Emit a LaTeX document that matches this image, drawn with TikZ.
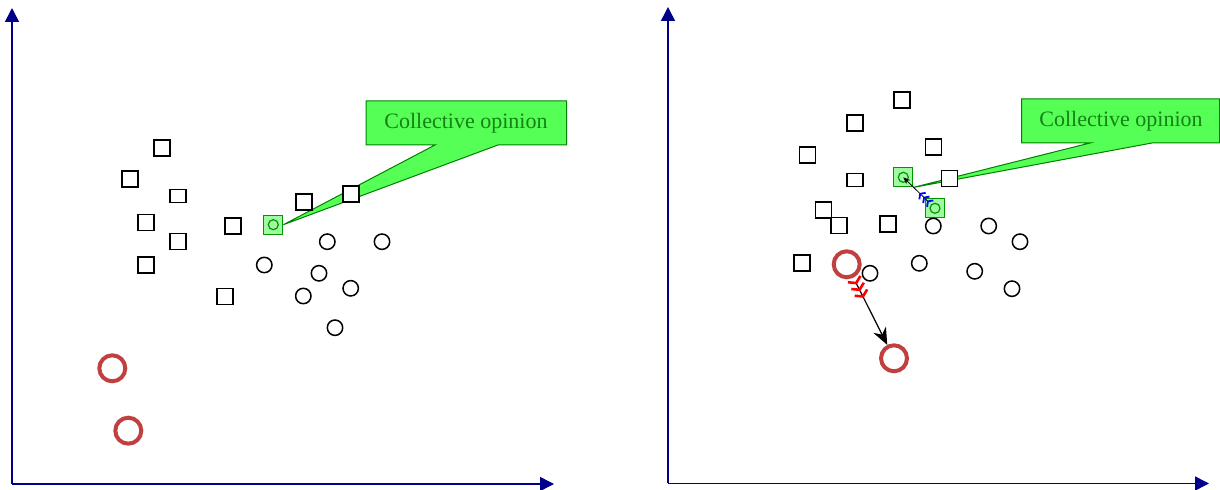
\documentclass[tikz,border=0pt]{standalone}
\usepackage{fontspec}
\setmainfont{Liberation Serif}
\usetikzlibrary{arrows.meta}
\definecolor{axisblue}{RGB}{0,0,139}
\definecolor{calloutfill}{RGB}{85,255,85}
\definecolor{calloutline}{RGB}{0,128,0}
\definecolor{callouttext}{RGB}{20,130,20}
\definecolor{lightgreen}{RGB}{160,250,160}
\definecolor{markgreen}{RGB}{0,150,0}
\definecolor{redring}{RGB}{192,64,64}
\tikzset{
  axis/.style={draw=axisblue, line width=0.75pt, -{Triangle[length=7pt,width=7pt]}},
  sq/.style={draw=black, fill=white, line width=0.8pt, rectangle, minimum width=8pt, minimum height=8pt, inner sep=0pt},
  sqflat/.style={sq, minimum height=6.5pt},
  dot/.style={draw=black, fill=white, line width=0.75pt, circle, minimum size=7.7pt, inner sep=0pt},
  ring/.style={draw=redring, line width=2pt, circle, minimum size=13pt, inner sep=0pt},
  gsq/.style={draw=markgreen, fill=lightgreen, line width=0.6pt, rectangle, minimum size=9.5pt, inner sep=0pt},
  gdot/.style={draw=markgreen, line width=0.6pt, circle, minimum size=5pt, inner sep=0pt},
  callout/.style={draw=calloutline, fill=calloutfill, line width=0.5pt, line join=miter},
  callouttxt/.style={text=callouttext, font=\fontsize{11}{13}\selectfont, inner sep=0pt},
  redbarb/.tip={Straight Barb[reversed,color=red,length=2.2pt,width=7pt,line width=1.3pt,sep=0.15pt]},
  bluebarb/.tip={Straight Barb[reversed,color=blue,length=1.6pt,width=4.5pt,line width=0.9pt,sep=0.1pt]},
}
\begin{document}
\begin{tikzpicture}[x=0.5pt,y=-0.5pt]
\useasboundingbox (0,0) rectangle (1220,490);
% ---------- axes ----------
\coordinate (O1) at (12,484);
\coordinate (Y1) at (12,8);
\coordinate (X1) at (554,484);
\coordinate (O2) at (668,483.5);
\coordinate (Y2) at (668,7);
\coordinate (X2) at (1209,483.5);
\draw[axis] (O1) -- (Y1);
\draw[axis] (O1) -- (X1);
\draw[axis] (O2) -- (Y2);
\draw[axis] (O2) -- (X2);

% ---------- left panel ----------
\node[gsq] (gL) at (273.3,224.7) {};
\node[gdot] (gLc) at (gL.center) {};
\node[callouttxt] (tL) at (466,123) {Collective opinion};
\draw[callout] (366,101) -- (566.5,101) -- (566.5,145) -- (498,145) -- (gL.east) -- (435,145) -- (366,145) -- cycle;
\node[callouttxt] at (tL) {Collective opinion};
\node[gsq, fill=none] at (gL) {};

\foreach \n/\x/\y in {a/162/148, b/130/179, d/146/222.7, e/177.7/241.7, f/146/265, g/232.7/226, h/225/296.7, i/303.7/202.3, j/350.7/194.3}
  \node[sq] (sL\n) at (\x,\y) {};
\node[sqflat] (sLc) at (177.7,196) {};
\foreach \n/\x/\y in {a/327.3/241.7, b/382/241.7, c/264.3/265, d/319/273.3, e/350.7/288.3, f/303.3/296, g/335/327.7}
  \node[dot] (cL\n) at (\x,\y) {};
\node[ring] (rL1) at (112.3,368.3) {};
\node[ring] (rL2) at (128.3,430.7) {};

% ---------- right panel ----------
\node[gsq] (gA) at (903.3,177.3) {};
\node[gdot] (gAc) at (gA.center) {};
\node[gsq] (gB) at (935,208.3) {};
\node[gdot] (gBc) at (gB.center) {};
\node[callouttxt] (tR) at (1121,121) {Collective opinion};
\draw[callout] (1021.5,99) -- (1219.5,99) -- (1219.5,143) -- (1152,143) -- (gA.south east) -- (1090,143) -- (1021.5,143) -- cycle;
\node[callouttxt] at (tR) {Collective opinion};

\foreach \n/\x/\y in {a/902/100, b/854.7/123.3, c/807.3/155, d/933.3/147.3, f/949.3/178.7, g/823.3/210, h/839/225.7, i/888/224, j/801.7/263.3}
  \node[sq] (sR\n) at (\x,\y) {};
\node[sqflat] (sRe) at (854.7,180) {};
\foreach \n/\x/\y in {a/933.3/226, b/988.7/226, c/1020/241.7, d/919.3/263.3, e/974.7/271.3, f/1012/288.7, g/870/273.3}
  \node[dot] (cR\n) at (\x,\y) {};
\node[ring] (rR1) at (846.7,264.3) {};
\node[ring] (rR2) at (894,358.3) {};

% moves
\draw[line width=0.4pt, {bluebarb[]bluebarb[]bluebarb[]}-{Stealth[length=3.5pt,width=2.8pt]}]
  (gBc) -- (gAc.center);
\draw[line width=0.6pt, {redbarb[]redbarb[]redbarb[]}-{Stealth[length=8.5pt,width=7pt]}]
  (rR1) -- (rR2);
\end{tikzpicture}
\end{document}
